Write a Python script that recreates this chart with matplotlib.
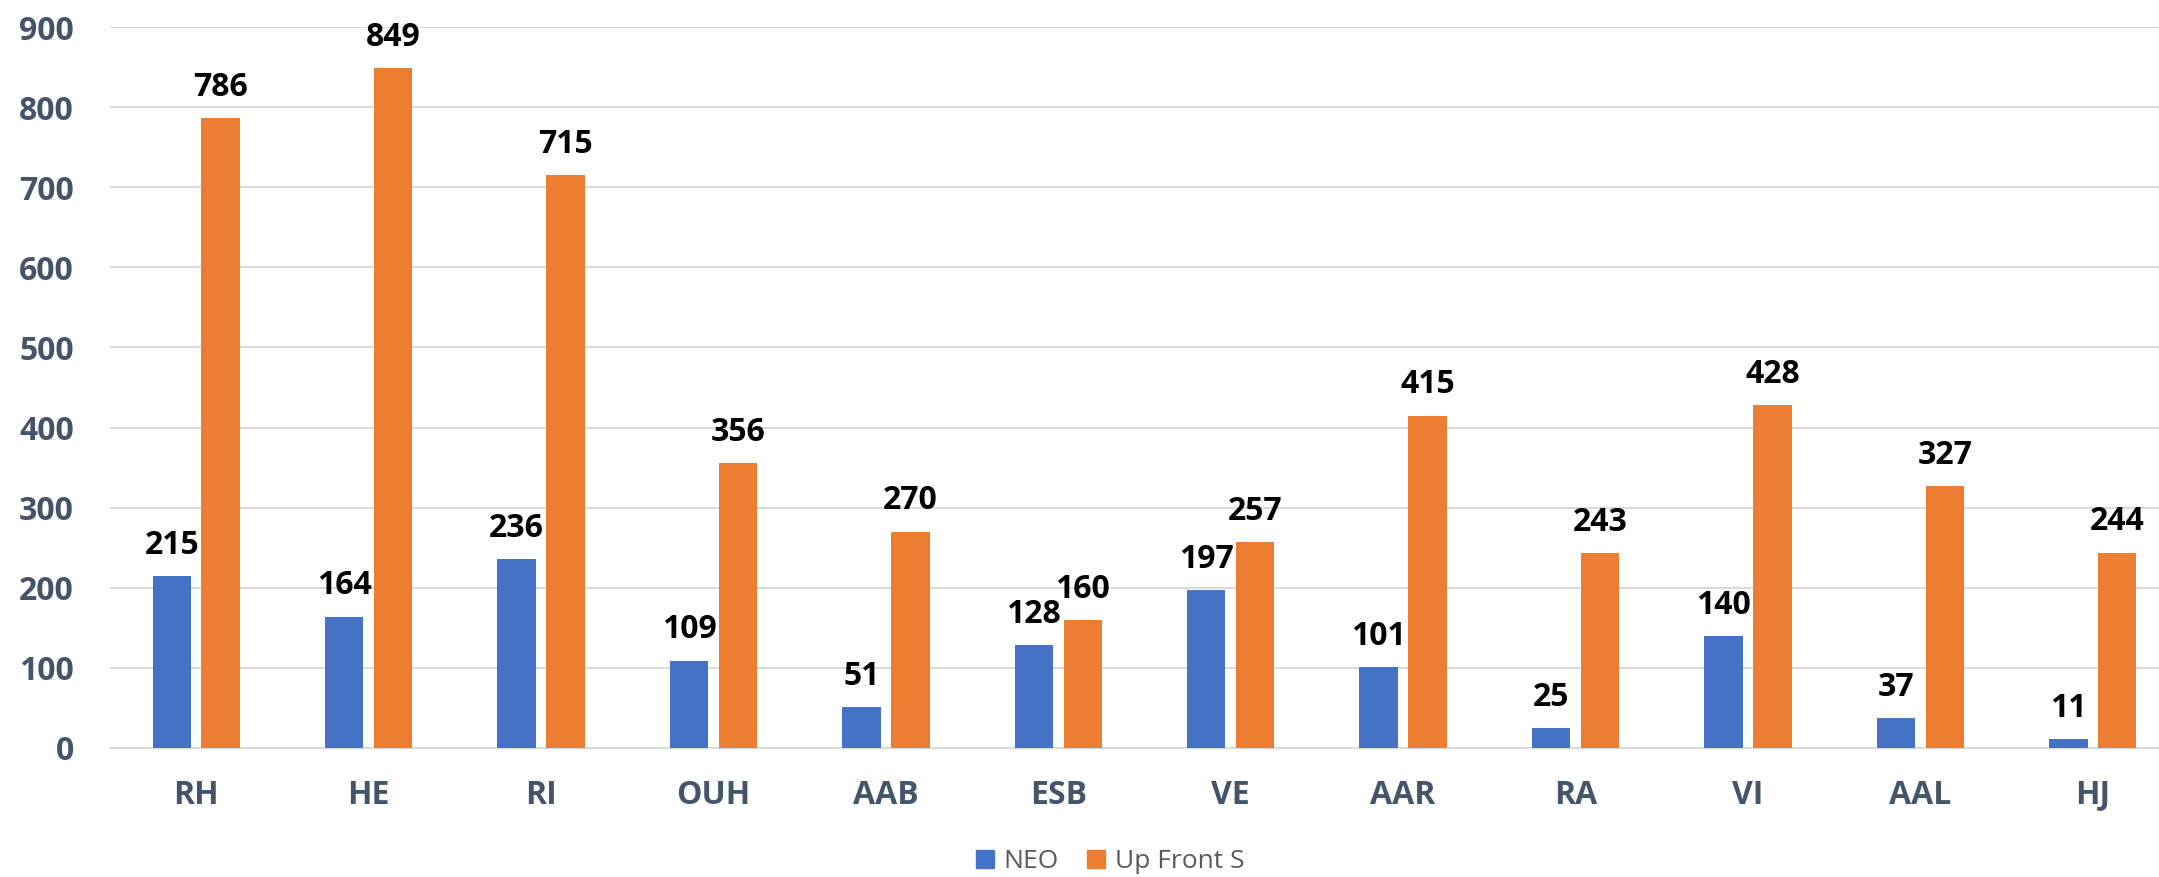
import numpy as np
import matplotlib
matplotlib.use("Agg")
import matplotlib.pyplot as plt
from matplotlib.patches import Patch

categories = ["RH", "HE", "RI", "OUH", "AAB", "ESB", "VE", "AAR", "RA", "VI", "AAL", "HJ"]
neo = [215, 164, 236, 109, 51, 128, 197, 101, 25, 140, 37, 11]
upfront = [786, 849, 715, 356, 270, 160, 257, 415, 243, 428, 327, 244]
series_names = ["NEO", "Up Front S"]
yticks = [0, 100, 200, 300, 400, 500, 600, 700, 800, 900]

blue = "#4472C4"
orange = "#ED7D31"
axis_txt = "#44546A"
grid_c = "#D9D9D9"

plt.rcParams["font.family"] = ["Open Sans", "DejaVu Sans"]

W, H = 2159, 877
fig = plt.figure(figsize=(W / 100, H / 100), dpi=100)
ax = fig.add_axes([110 / W, 129 / H, 2069 / W, 721 / H])

x = np.arange(len(categories))
bw = 0.223
off = 0.142
b1 = ax.bar(x - off, neo, bw, color=blue, zorder=3)
b2 = ax.bar(x + off, upfront, bw, color=orange, zorder=3)

for bars in (b1, b2):
    for r in bars:
        h = r.get_height()
        ax.annotate(f"{h:.0f}", (r.get_x() + r.get_width() / 2, h),
                    xytext=(0, 16), textcoords="offset points",
                    ha="center", va="baseline", fontsize=23,
                    fontweight="bold", color="black", zorder=4)

ax.set_xlim(-0.5, len(categories) - 0.5)
ax.set_ylim(0, 900)
ax.set_yticks(yticks)
ax.set_xticks(x)
ax.set_xticklabels(categories)
ax.tick_params(axis="y", length=0, pad=26, labelsize=23, labelcolor=axis_txt)
ax.tick_params(axis="x", length=0, pad=22, labelsize=23, labelcolor=axis_txt)
for lbl in ax.get_xticklabels() + ax.get_yticklabels():
    lbl.set_fontweight("bold")

ax.grid(axis="y", color=grid_c, linewidth=1.4, zorder=0)
for s in ["top", "right", "left"]:
    ax.spines[s].set_visible(False)
ax.spines["bottom"].set_color(grid_c)
ax.spines["bottom"].set_linewidth(1.4)
ax.spines["bottom"].set_zorder(2)

handles = [Patch(color=blue), Patch(color=orange)]
fig.legend(handles, series_names, loc="center", bbox_to_anchor=(1110 / W, 1 - 862 / H),
           ncol=2, frameon=False, fontsize=19, labelcolor="#595959",
           handlelength=0.68, handleheight=0.68, handletextpad=0.35, columnspacing=1.1)

fig.savefig("out.png", dpi=100)
